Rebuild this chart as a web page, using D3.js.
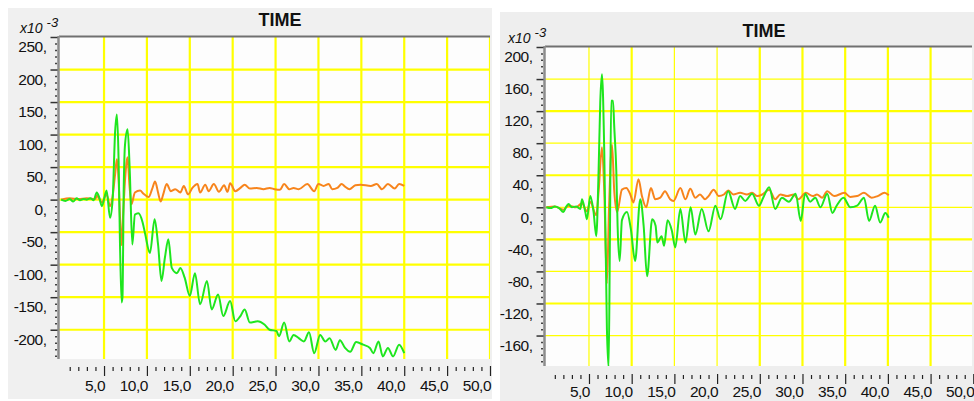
<!DOCTYPE html>
<html>
<head>
<meta charset="utf-8">
<script src="https://cdn.jsdelivr.net/npm/d3@7"></script>
<style>
  body { margin: 0; background: #fff; }
  text { font-family: 'Liberation Sans', Arial, sans-serif; fill: #111; }
</style>
</head>
<body>
<div id="chart"></div>
<script>
// values are x10^-3, time on x
const leftYTicks = [250, 200, 150, 100, 50, 0, -50, -100, -150, -200]
const rightYTicks = [200, 160, 120, 80, 40, 0, -40, -80, -120, -160]
const xTicks = [5, 10, 15, 20, 25, 30, 35, 40, 45, 50]

const leftOrange = [[0,0],[1,2],[2,1],[3,2],[4,1],[4.15,6],[4.75,-4],[5.3,8],[5.7,-10],[6.0,5],[6.3,40],[6.5,62],[6.7,30],[6.9,-40],[7.05,-70],[7.2,-30],[7.4,20],[7.6,55],[7.75,65],[7.95,25],[8.2,-7],[8.6,11],[9.2,14],[9.6,9],[10.2,4],[10.6,16],[10.95,28],[11.3,11],[11.6,-3],[11.9,8],[12.3,24],[12.8,13],[13.3,16],[13.9,11],[14.3,21],[14.8,8],[15.3,18],[15.9,24],[16.2,11],[16.8,23],[17.2,13],[17.8,24],[18.4,12],[19.0,22],[19.4,12],[19.7,25],[20.3,13],[20.9,18],[21.4,23],[22,17],[22.8,18],[23.6,16],[24.3,18],[24.9,16],[25.5,15],[26,24],[26.6,16],[27.1,18],[27.7,16],[28.7,24],[29.5,13],[30,24],[30.6,21],[31.2,24],[31.6,16],[32.2,18],[32.7,24],[33.1,20],[33.6,16],[34.3,22],[34.9,23],[36.1,21],[36.8,24],[37.4,16],[38.1,24],[38.9,17],[39.4,24],[40,21]]

const leftGreen = [[0,0],[0.5,-2],[1,1],[1.4,-3],[1.8,2],[2.2,-1],[2.6,1],[3,0],[3.4,2],[3.8,-1],[4.15,11],[4.45,3],[4.75,-10],[5.3,14],[5.7,-28],[6.0,0],[6.3,106],[6.5,131],[6.7,60],[6.85,-60],[7.05,-158],[7.15,-150],[7.3,20],[7.45,85],[7.75,108],[8.0,44],[8.3,-69],[8.6,-23],[9.0,-21],[9.5,-35],[9.8,-53],[10.35,-82],[10.9,-30],[11.3,-69],[11.7,-125],[12.1,-89],[12.5,-61],[12.9,-105],[13.5,-113],[13.9,-105],[14.4,-120],[15.0,-148],[15.6,-113],[16.2,-161],[17.0,-125],[17.55,-169],[18.3,-146],[18.9,-179],[19.7,-156],[20.3,-187],[20.9,-179],[21.4,-169],[22,-189],[22.9,-187],[23.7,-192],[24.3,-200],[25.1,-202],[25.4,-210],[26,-189],[26.6,-218],[27.1,-208],[27.7,-213],[28.3,-218],[28.9,-204],[29.5,-236],[30.2,-208],[30.8,-218],[31.3,-213],[32,-231],[32.5,-216],[33.1,-228],[33.7,-234],[34.4,-219],[35.2,-223],[36,-228],[36.4,-236],[37,-218],[37.5,-241],[38.1,-228],[38.7,-241],[39.4,-223],[40,-236]]

const rightOrange = [[0,0],[1,1],[2,-3],[2.6,2],[3.5,0],[4.18,5],[4.76,-5],[5.15,7],[5.85,-10],[6.13,20],[6.52,75],[6.79,20],[7.1,-95],[7.35,0],[7.7,78],[7.96,20],[8.3,-6],[8.86,22],[9.37,24],[9.84,16],[10.2,6],[10.8,35],[11.2,14],[11.7,0],[12.25,24],[12.76,10],[13.35,12],[13.9,20],[14.5,10],[14.9,8],[15.7,24],[16.3,10],[16.86,23],[17.45,12],[18.0,16],[18.6,10],[19.0,14],[19.6,22],[20.2,14],[20.8,16],[21.3,21],[21.9,16],[22.7,18],[23.5,16],[24.1,18],[24.7,14],[25.3,16],[26.1,22],[26.8,10],[27.4,16],[28.2,14],[29.0,16],[29.5,10],[30.4,18],[31.2,14],[31.7,16],[32.3,12],[32.9,20],[33.7,14],[34.9,18],[35.6,13],[36.4,14],[37.2,18],[38.1,12],[38.8,14],[39.6,18],[40.1,15]]

const rightGreen = [[0,0],[0.5,-1],[1,1],[1.5,-1],[2.0,-6],[2.3,0],[2.6,4],[3,0],[3.5,1],[4.0,-2],[4.18,10],[4.57,-6],[4.76,-15],[5.15,14],[5.54,-6],[5.85,-36],[6.13,47],[6.32,131],[6.52,166],[6.79,69],[7.1,-152],[7.3,-200],[7.45,-40],[7.6,133],[7.81,133],[7.96,100],[8.2,45],[8.35,-23],[8.59,-67],[8.86,-16],[9.45,-6],[9.9,-27],[10.4,-67],[11.0,10],[11.4,-23],[11.8,-86],[12.4,-15],[12.8,-23],[13.0,-44],[13.5,-36],[13.8,-48],[14.2,-16],[14.7,-29],[15.1,-50],[15.7,-2],[16.3,-44],[16.9,0],[17.45,-34],[18.2,-2],[19.0,-30],[19.8,2],[20.4,-15],[21.3,20],[22.1,-2],[22.7,14],[23.3,8],[24.1,17],[24.9,2],[25.4,12],[26.1,25],[26.8,-2],[27.6,12],[28.4,7],[29.2,17],[29.8,-17],[30.3,17],[30.9,7],[31.5,12],[32.1,0],[32.9,17],[33.5,-7],[34.0,2],[34.8,12],[35.6,0],[36.4,2],[37.2,12],[37.8,-17],[38.5,2],[39.1,-19],[39.7,-7],[40.1,-13]]

const width = 974
const height = 401

const svg = d3
  .select('#chart')
  .append('svg')
  .attr('width', width)
  .attr('height', height)

const panels = [
  {
    id: 'left',
    bg: { x: 8, y: 8, w: 484, h: 391, fill: '#f0f0f0' },
    plot: { left: 59, right: 490, top: 37, bottom: 359 },
    xDomain: [-0.25, 50],
    yDomain: [-245, 250],
    yTicks: leftYTicks,
    yMinor: 10,
    xAxisY: 366,
    xLabelY: 391,
    title: { x: 280, y: 26 },
    exp: { x: 20, y: 33 },
    thin: [],
    orange: leftOrange,
    green: leftGreen
  },
  {
    id: 'right',
    bg: { x: 500, y: 12, w: 474, h: 389, fill: '#eeeeee' },
    plot: { left: 545, right: 972, top: 47, bottom: 366 },
    xDomain: [-0.15, 49.85],
    yDomain: [-198, 200],
    yTicks: rightYTicks,
    yMinor: 8,
    xAxisY: 374,
    xLabelY: 397,
    title: { x: 764, y: 37 },
    exp: { x: 508, y: 43 },
    thin: [160, 80, 0, -80, -160, 5, 15, 20],
    orange: rightOrange,
    green: rightGreen
  }
]

panels.forEach(drawPanel)

function drawPanel(p) {
  const g = svg.append('g').attr('class', 'panel-' + p.id)
  const pl = p.plot

  const xPositionScale = d3.scaleLinear().domain(p.xDomain).range([pl.left, pl.right])
  const yPositionScale = d3.scaleLinear().domain(p.yDomain).range([pl.bottom, pl.top])

  g.append('rect')
    .attr('x', p.bg.x)
    .attr('y', p.bg.y)
    .attr('width', p.bg.w)
    .attr('height', p.bg.h)
    .attr('fill', p.bg.fill)

  g.append('rect')
    .attr('x', pl.left)
    .attr('y', pl.top)
    .attr('width', pl.right - pl.left)
    .attr('height', pl.bottom - pl.top)
    .attr('fill', '#fdfdfd')

  g.append('clipPath')
    .attr('id', 'clip-' + p.id)
    .append('rect')
    .attr('x', pl.left)
    .attr('y', pl.top)
    .attr('width', pl.right - pl.left)
    .attr('height', pl.bottom - pl.top)

  const inner = g.append('g').attr('clip-path', `url(#clip-${p.id})`)

  // yellow grid
  inner
    .selectAll('.hgrid')
    .data(p.yTicks.filter(d => yPositionScale(d) > pl.top + 2))
    .enter()
    .append('line')
    .attr('class', 'hgrid')
    .attr('x1', pl.left)
    .attr('x2', pl.right)
    .attr('y1', d => yPositionScale(d))
    .attr('y2', d => yPositionScale(d))
    .attr('stroke', '#ffff00')
    .attr('stroke-width', d => (p.thin.includes(d) ? 1.2 : 2.2))

  inner
    .selectAll('.vgrid')
    .data(xTicks)
    .enter()
    .append('line')
    .attr('class', 'vgrid')
    .attr('x1', d => xPositionScale(d))
    .attr('x2', d => xPositionScale(d))
    .attr('y1', pl.top)
    .attr('y2', pl.bottom)
    .attr('stroke', '#ffff00')
    .attr('stroke-width', d => (p.id === 'right' && p.thin.includes(d) ? 1.2 : 2.2))

  // curves: orange under green
  const line = d3
    .line()
    .curve(d3.curveMonotoneX)
    .x(d => xPositionScale(d[0]))
    .y(d => yPositionScale(d[1]))

  inner
    .append('path')
    .datum(p.orange)
    .attr('d', line)
    .attr('fill', 'none')
    .attr('stroke', '#f7841c')
    .attr('stroke-width', 2)

  inner
    .append('path')
    .datum(p.green)
    .attr('d', line)
    .attr('fill', 'none')
    .attr('stroke', '#1ee61e')
    .attr('stroke-width', 2)

  // frame lines
  g.append('line')
    .attr('x1', pl.left)
    .attr('x2', pl.right)
    .attr('y1', pl.top - 0.5)
    .attr('y2', pl.top - 0.5)
    .attr('stroke', '#707070')
    .attr('stroke-width', 2)

  g.append('line')
    .attr('x1', pl.left - 0.5)
    .attr('x2', pl.left - 0.5)
    .attr('y1', pl.top - 1)
    .attr('y2', pl.bottom)
    .attr('stroke', '#8c8c8c')
    .attr('stroke-width', 2.5)

  // y axis
  const yAxis = d3
    .axisLeft(yPositionScale)
    .tickValues(p.yTicks)
    .tickSize(7)
    .tickPadding(4)
    .tickFormat(d => d + ',')

  const ya = g
    .append('g')
    .attr('class', 'axis y-axis')
    .attr('transform', `translate(${pl.left - 1.5},0)`)
    .call(yAxis)
  ya.select('.domain').remove()
  ya.selectAll('line').attr('stroke', '#333').attr('stroke-width', 1.5)
  ya.selectAll('text')
    .attr('dy', '0.95em')
    .attr('font-size', 15.5)
    .attr('letter-spacing', -0.5)
    .attr('font-family', "'Liberation Sans', Arial, sans-serif")
    .attr('fill', '#111')

  const yMinor = d3
    .range(Math.ceil(p.yDomain[0] / p.yMinor) * p.yMinor, p.yDomain[1] + 0.1, p.yMinor)
    .filter(d => !p.yTicks.includes(d))
  const ym = g
    .append('g')
    .attr('class', 'axis y-minor')
    .attr('transform', `translate(${pl.left - 2},0)`)
    .call(d3.axisLeft(yPositionScale).tickValues(yMinor).tickSize(2).tickFormat(''))
  ym.select('.domain').remove()
  ym.selectAll('line').attr('stroke', '#444').attr('stroke-width', 1.5)

  // x axis strip
  const xMinor = d3.range(1, 51).filter(d => d % 5 !== 0)
  const xm = g
    .append('g')
    .attr('class', 'axis x-minor')
    .attr('transform', `translate(0,${p.xAxisY + 1})`)
    .call(d3.axisBottom(xPositionScale).tickValues(xMinor).tickSize(4).tickFormat(''))
  xm.select('.domain').remove()
  xm.selectAll('line').attr('stroke', '#222').attr('stroke-width', 1.2)

  const xAxis = d3
    .axisBottom(xPositionScale)
    .tickValues(xTicks)
    .tickSize(10)
    .tickFormat(d => d3.format('.1f')(d).replace('.', ','))
  const xa = g
    .append('g')
    .attr('class', 'axis x-axis')
    .attr('transform', `translate(0,${p.xAxisY})`)
    .call(xAxis)
  xa.select('.domain').remove()
  xa.selectAll('line').attr('stroke', '#222').attr('stroke-width', 1.2)
  xa.selectAll('text')
    .attr('y', p.xLabelY - p.xAxisY)
    .attr('dy', 0)
    .attr('dx', 0.5)
    .attr('text-anchor', 'end')
    .attr('font-size', 15.5)
    .attr('letter-spacing', -0.5)
    .attr('font-family', "'Liberation Sans', Arial, sans-serif")
    .attr('fill', '#111')

  // titles
  g.append('text')
    .attr('x', p.title.x)
    .attr('y', p.title.y)
    .attr('text-anchor', 'middle')
    .attr('font-size', 18)
    .attr('font-weight', 'bold')
    .text('TIME')

  const ex = g
    .append('text')
    .attr('x', p.exp.x)
    .attr('y', p.exp.y)
    .attr('font-size', 14)
    .attr('font-style', 'italic')
  ex.append('tspan').text('x10')
  ex.append('tspan').attr('dx', 4).attr('dy', -6).attr('font-size', 13).text('-3')
}
</script>
</body>
</html>
